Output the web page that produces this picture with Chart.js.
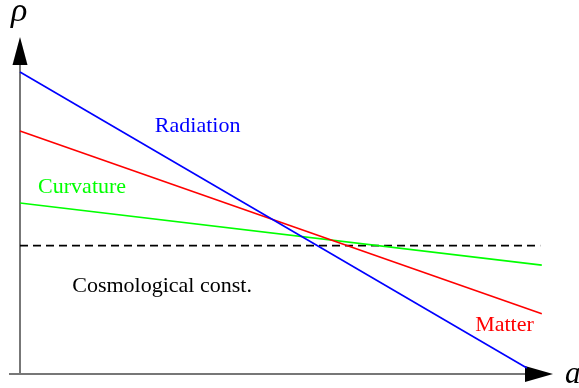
<!DOCTYPE html>
<html>
<head>
<meta charset="utf-8">
<script src="https://cdn.jsdelivr.net/npm/chart.js"></script>
<style>
  body { margin: 0; background: #fff; }
  canvas { display: block; }
</style>
</head>
<body>
<canvas id="densityChart" width="579" height="388"></canvas>
<script>
// scale factor a (horizontal) against density rho (vertical), arbitrary units
const radiationA = [0, 9.51];
const radiationRho = [8.99, 0.18];
const matterA = [0, 9.79];
const matterRho = [7.23, 1.79];
const curvatureA = [0, 9.79];
const curvatureRho = [5.09, 3.24];
const lambdaA = [0, 9.76];
const lambdaRho = [3.82, 3.82];

const names = ["Radiation", "Matter", "Curvature", "Cosmological const."];
const colors = ["#0000ff", "#ff0000", "#00ff00", "#000000"];
// where each name is written, in a / rho units
const nameA = [2.53, 8.54, 0.34, 0.98];
const nameRho = [7.2, 1.28, 5.39, 2.44];

function points(xs, ys) {
  return xs.map((x, i) => ({ x: x, y: ys[i] }));
}

const series = [
  points(radiationA, radiationRho),
  points(matterA, matterRho),
  points(curvatureA, curvatureRho),
  points(lambdaA, lambdaRho),
];

const datasets = series.map((pts, i) => ({
  label: names[i],
  data: pts,
  borderColor: colors[i],
  borderWidth: i === 3 ? 1.8 : 1.6,
  borderDash: i === 3 ? [8, 5] : [],
  pointRadius: 0,
  tension: 0,
  clip: false,
}));

// axis lines with arrow heads, plus the curve names and axis symbols
const axesAndNames = {
  id: "axesAndNames",
  beforeDatasetsDraw(chart) {
    const { ctx, chartArea } = chart;
    const x0 = chartArea.left;
    const y0 = chartArea.bottom;
    ctx.save();
    ctx.strokeStyle = "#777777";
    ctx.lineWidth = 2;
    ctx.beginPath();
    ctx.moveTo(9, y0);
    ctx.lineTo(chartArea.right - 20, y0);
    ctx.moveTo(x0, y0);
    ctx.lineTo(x0, chartArea.top + 20);
    ctx.stroke();

    ctx.fillStyle = "#000";
    // up arrow
    ctx.beginPath();
    ctx.moveTo(x0, chartArea.top - 1);
    ctx.lineTo(x0 - 7.5, chartArea.top + 27);
    ctx.lineTo(x0 + 7.5, chartArea.top + 27);
    ctx.closePath();
    ctx.fill();
    // right arrow
    ctx.beginPath();
    ctx.moveTo(chartArea.right, y0);
    ctx.lineTo(chartArea.right - 28, y0 - 8);
    ctx.lineTo(chartArea.right - 28, y0 + 8);
    ctx.closePath();
    ctx.fill();
    ctx.restore();
  },
  afterDatasetsDraw(chart) {
    const { ctx, scales } = chart;
    ctx.save();
    ctx.textBaseline = "alphabetic";
    ctx.textAlign = "left";
    ctx.font = "22px 'Liberation Serif', 'Times New Roman', serif";
    names.forEach((name, i) => {
      ctx.fillStyle = colors[i];
      ctx.fillText(name, scales.x.getPixelForValue(nameA[i]), scales.y.getPixelForValue(nameRho[i]));
    });
    ctx.fillStyle = "#000";
    ctx.font = "italic 34px 'Liberation Serif', 'Times New Roman', serif";
    ctx.fillText("\u03c1", 11, 21);
    ctx.font = "italic 31px 'Liberation Serif', 'Times New Roman', serif";
    ctx.fillText("a", 565, 383);
    ctx.restore();
  },
};

new Chart(document.getElementById("densityChart"), {
  type: "line",
  data: { datasets: datasets },
  options: {
    responsive: false,
    animation: false,
    layout: { padding: { left: 20, right: 26, top: 38, bottom: 14 } },
    plugins: { legend: { display: false }, tooltip: { enabled: false } },
    scales: {
      x: { type: "linear", min: 0, max: 10, display: false },
      y: { type: "linear", min: 0, max: 10, display: false },
    },
  },
  plugins: [axesAndNames],
});
</script>
</body>
</html>
